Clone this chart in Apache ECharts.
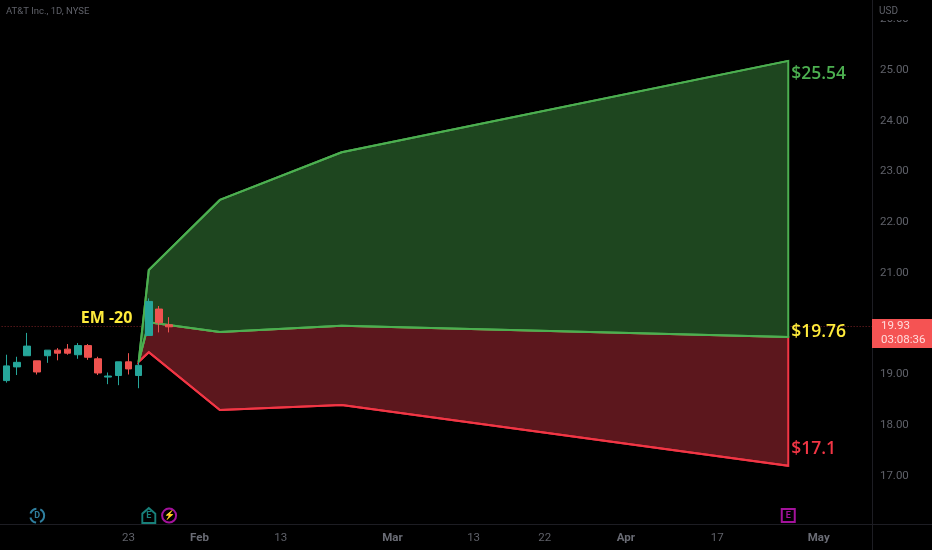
<!DOCTYPE html>
<html><head><meta charset="utf-8">
<style>html,body{margin:0;padding:0;background:#000}#c{width:932px;height:550px}</style>
<script src="https://cdn.jsdelivr.net/npm/echarts@6/dist/echarts.min.js"></script></head>
<body><div id="c"></div>
<script>
const categories = ['2023-01-04','2023-01-05','2023-01-06','2023-01-09','2023-01-10','2023-01-11','2023-01-12','2023-01-13','2023-01-17','2023-01-18','2023-01-19','2023-01-20','2023-01-23','2023-01-24','2023-01-25','2023-01-26','2023-01-27','2023-01-30','2023-01-31','2023-02-01','2023-02-02','2023-02-03','2023-02-06','2023-02-07','2023-02-08','2023-02-09','2023-02-10','2023-02-13','2023-02-14','2023-02-15','2023-02-16','2023-02-17','2023-02-21','2023-02-22','2023-02-23','2023-02-24','2023-02-27','2023-02-28','2023-03-01','2023-03-02','2023-03-03','2023-03-06','2023-03-07','2023-03-08','2023-03-09','2023-03-10','2023-03-13','2023-03-14','2023-03-15','2023-03-16','2023-03-17','2023-03-20','2023-03-21','2023-03-22','2023-03-23','2023-03-24','2023-03-27','2023-03-28','2023-03-29','2023-03-30','2023-03-31','2023-04-03','2023-04-04','2023-04-05','2023-04-06','2023-04-10','2023-04-11','2023-04-12','2023-04-13','2023-04-14','2023-04-17','2023-04-18','2023-04-19','2023-04-20','2023-04-21','2023-04-24','2023-04-25','2023-04-26','2023-04-27','2023-04-28','2023-05-01','2023-05-02','2023-05-03','2023-05-04','2023-05-05','2023-05-08'];
const xTickLabels = {'2023-01-23':'23','2023-02-01':'Feb','2023-02-13':'13','2023-03-01':'Mar','2023-03-13':'13','2023-03-22':'22','2023-04-03':'Apr','2023-04-17':'17','2023-05-01':'May'};
const monthLabels = ['Feb','Mar','Apr','May'];
const hiddenPriceLabels = [16,20];
// open, close, low, high
const candles = [
 [18.86,19.15,18.82,19.37],[19.13,19.22,18.97,19.33],[19.35,19.54,19.35,19.80],[19.25,19.03,18.98,19.25],
 [19.35,19.46,19.21,19.46],[19.46,19.40,19.26,19.50],[19.48,19.40,19.37,19.58],[19.37,19.55,19.29,19.60],
 [19.55,19.32,19.27,19.58],[19.29,19.01,18.97,19.33],[18.93,18.95,18.79,19.02],[18.96,19.23,18.77,19.23],
 [19.23,19.09,18.98,19.40],[18.96,19.16,18.71,19.23],[19.75,20.42,19.75,20.48],[20.27,20.00,19.81,20.33],
 [19.96,19.92,19.81,20.11]];
const emIndex = [13,14,21,33,77];
const emUpper = [19.23,21.04,22.42,23.36,25.16];
const emMid   = [19.23,20.01,19.82,19.94,19.72];
const emLower = [19.23,19.42,18.28,18.38,17.18];
const lastPrice = 19.93;
const noteTexts = ['$25.54','$19.76','$17.1','EM -20'];
const notePos = [[77,24.90],[77,19.82],[77,17.51],[7,20.09]];
const noteColors = ['#4caf50','#ffeb3b','#f23645','#ffeb3b'];
const eventPos = [[3,16.2],[14,16.2],[16,16.2],[77,16.2]];
const eventTexts = ['D','E','⚡','E'];
const eventColors = ['#2f7f9f','#18807a','#a3129b','#a3129b'];
const priceTag = ['19.93','03:08:36'];
const GREEN='#4caf50', RED='#f23645';
const pts = (a,b)=>emIndex.map((x,i)=>[x,a[i]]).concat(emIndex.map((x,i)=>[x,b[i]]).reverse());
function band(a,b,fill,stroke){
  return {type:'custom',coordinateSystem:'cartesian2d',silent:true,z:2,
    data:emIndex.map((x,i)=>[x,a[i],b[i]]),encode:{x:0,y:[1,2]},
    renderItem:(p,api)=>p.dataIndex!==0?null:{type:'polygon',
      shape:{points:pts(a,b).map(q=>api.coord(q))},
      style:{fill:fill,stroke:stroke,lineWidth:2}}};
}
const line=(v,c)=>({type:'line',data:emIndex.map((x,i)=>[x,v[i]]),symbol:'none',silent:true,z:3,
  lineStyle:{color:c,width:2}});
const labelFont='"Open Sans",sans-serif';
const chart=echarts.init(document.getElementById('c'),null,{renderer:'canvas'});
chart.setOption({
  animation:false,backgroundColor:'#000',
  grid:{left:1.63,width:872.9,top:18.25,height:507.5,containLabel:false},
  xAxis:{type:'category',data:categories,boundaryGap:true,
    axisLine:{show:false},axisTick:{show:false},splitLine:{show:false},
    axisLabel:{margin:6,fontFamily:'Roboto,sans-serif',fontSize:11.5,color:'#5f6169',
      interval:(i,v)=>v in xTickLabels,
      formatter:v=>{const t=xTickLabels[v];return monthLabels.includes(t)?'{m|'+t+'}':t;},
      rich:{m:{fontFamily:'Roboto,sans-serif',fontSize:11.5,fontWeight:'bold',color:'#6a6c75'}}}},
  yAxis:{type:'value',position:'right',offset:-2.6,min:16,max:26,interval:1,
    axisLine:{show:false},axisTick:{show:false},splitLine:{show:false},
    axisLabel:{margin:8,
      formatter:v=>hiddenPriceLabels.includes(v)?'':'{p|'+v.toFixed(2)+'}',
      rich:{p:{padding:[2,0,0,0],fontFamily:'Roboto,sans-serif',fontSize:11.5,color:'#5f6169'}}}},
  series:[
    band(emMid,emLower,'#5c171d',RED),
    band(emUpper,emMid,'#1e461f',GREEN),
    line(emLower,RED),line(emUpper,GREEN),line(emMid,GREEN),
    {type:'candlestick',data:candles,barWidth:7,z:4,silent:true,
      itemStyle:{color:'#26a69a',borderColor:'#26a69a',color0:'#ef5350',borderColor0:'#ef5350',borderWidth:1},
      markLine:{silent:true,symbol:'none',label:{show:false},z:1,
        lineStyle:{color:'#7d2226',type:[1,2],width:1},data:[{yAxis:lastPrice}]}},
    {type:'scatter',symbolSize:0,silent:true,z:6,itemStyle:{opacity:1},
      data:notePos.map((p,i)=>({value:p,label:{show:true,position:'right',distance:3,formatter:noteTexts[i],
        color:noteColors[i],fontFamily:labelFont,fontWeight:i===3?700:600,fontSize:i===3?16:17.5}}))},
    {type:'scatter',silent:true,z:6,
      data:eventPos.map((p,i)=>({value:p,
        symbol:i===0||i===2?'circle':i===1?'path://M0 6L6 0L12 6V16H0Z':'rect',
        symbolSize:i===1?[13,15]:i===3?[13,13]:14,
        itemStyle:{opacity:1,color:'#000',borderColor:eventColors[i],borderWidth:2,borderType:i===0?'dashed':'solid'},
        label:{show:true,position:'inside',formatter:eventTexts[i],color:eventColors[i],
          fontFamily:'Roboto,sans-serif',fontSize:9,fontWeight:'bold'}}))}
  ],
  graphic:[
    {type:'rect',z:50,silent:true,shape:{x:873,y:0,width:59,height:20},style:{fill:'#000'}},
    {type:'line',z:51,silent:true,shape:{x1:0,y1:524.5,x2:932,y2:524.5},style:{stroke:'#1d1d23',lineWidth:1}},
    {type:'line',z:51,silent:true,shape:{x1:872.5,y1:0,x2:872.5,y2:550},style:{stroke:'#1d1d23',lineWidth:1}},
    {type:'text',z:52,silent:true,x:879,y:6,style:{text:'USD',fill:'#5f6169',font:'10px Roboto,sans-serif'}},
    {type:'text',z:52,silent:true,x:6,y:7,style:{text:'AT&T Inc., 1D, NYSE',fill:'#5f6169',font:'9.5px Roboto,sans-serif'}},
    {type:'rect',z:53,silent:true,shape:{x:872,y:319,width:60,height:29},style:{fill:'#f55353'}},
    {type:'text',z:54,silent:true,x:881,y:320.5,style:{text:priceTag[0],fill:'#ffdcdc',font:'11.5px/14px Roboto,sans-serif'}},
    {type:'text',z:54,silent:true,x:881,y:334,style:{text:priceTag[1],fill:'#ffdcdc',font:'11.5px/14px Roboto,sans-serif'}}
  ]
});
</script></body></html>
